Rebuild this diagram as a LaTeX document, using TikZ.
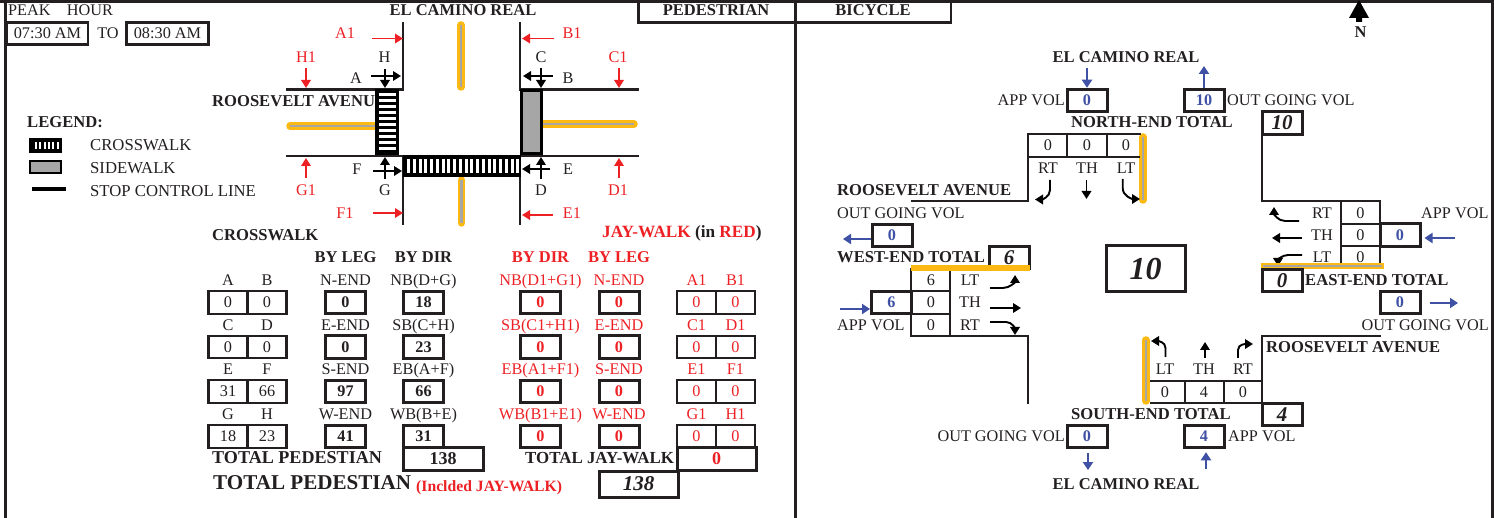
\documentclass[tikz,border=0pt]{standalone}
\usepackage{fontspec}
\setmainfont{Liberation Serif}
\usepackage{xcolor}
\usetikzlibrary{arrows.meta,positioning,calc}
\definecolor{inkdark}{HTML}{231F20}
\definecolor{jayred}{HTML}{ED2024}
\definecolor{volblue}{HTML}{3F51A5}
\definecolor{medgold}{HTML}{FDB913}
\definecolor{walkgray}{HTML}{A6A6A6}
\begin{document}
\begin{tikzpicture}[x=1pt,y=-1pt,
every node/.style={inner sep=0pt,text=inkdark,font=\fontsize{16.25}{18}\selectfont},
lab/.style={anchor=center,text height=10.7pt,text depth=0pt},
labl/.style={anchor=west,text height=10.7pt,text depth=0pt},
redlab/.style={anchor=center,text=jayred,text height=10.7pt,text depth=0pt},
head/.style={anchor=west,text height=10.7pt,text depth=0pt,font=\fontsize{16.6}{18}\selectfont\bfseries},
headc/.style={anchor=center,text height=10.7pt,text depth=0pt,font=\fontsize{16.5}{18}\selectfont\bfseries},
thinbox/.style={draw=inkdark,line width=2.1pt,minimum width=39pt,minimum height=22.5pt,anchor=center},
fatbox/.style={draw=inkdark,line width=3pt,fill=white,minimum width=40pt,minimum height=22.5pt,anchor=center,font=\fontsize{16.2}{18}\selectfont\bfseries},
volbox/.style={fatbox,text=volblue},
sumbox/.style={fatbox,font=\fontsize{21}{24}\selectfont\bfseries\itshape},
frameline/.style={draw=inkdark,line width=3pt},
road/.style={draw=inkdark,line width=2.6pt},
tabline/.style={draw=inkdark,line width=2.2pt},
median/.style={draw=medgold,line width=7.5pt},
medcore/.style={draw=walkgray,line width=2.4pt},
walkarrow/.style={-{Triangle[length=8pt,width=9.5pt]},line width=1.8pt,draw=black},
jayarrow/.style={-{Triangle[length=8pt,width=9.5pt]},line width=1.8pt,draw=jayred},
flowarrow/.style={-{Triangle[length=8pt,width=10pt]},line width=2pt,draw=volblue},
turnarrow/.style={-{Triangle[length=8pt,width=9.5pt]},line width=1.9pt,draw=black}
]
\useasboundingbox (0,0) rectangle (1494,518);
\draw[frameline] (0,1.2) -- (1494,1.2);
\draw[frameline] (5.5,0) -- (5.5,518);
\draw[frameline] (795,0) -- (795,518);
\draw[frameline] (1492,0) -- (1492,518);
\draw[frameline,line width=2.5pt] (638.5,0) |- (951,22.5) -- (951,0);

\node[labl] (peak) at (8,10) {PEAK\hspace{1em}HOUR};
\node[thinbox,line width=2.6pt,minimum width=81pt] (start) at (47.5,33.5) {07:30 AM};
\node[lab] (to) at (108,33) {TO};
\node[thinbox,line width=2.6pt,minimum width=82pt] (stop) at (167.5,33.5) {08:30 AM};
\node[headc] (pedhdr) at (716,10.5) {PEDESTRIAN};
\node[headc] (bikehdr) at (873,10.5) {BICYCLE};
\fill[black] (1359,0) -- (1369,18) -- (1362,18) -- (1362,22) -- (1356,22) -- (1356,18) -- (1349,18) -- cycle;
\node[headc] (north) at (1360.5,32.5) {N};

\node[headc] (camino) at (463,10.5) {EL CAMINO REAL};
\node[head] (roosevelt) at (212,101) {ROOSEVELT AVENUE};
\draw[road] (286,89.5) -- (403,89.5) -- (403,22);
\draw[road] (520,22) -- (520,89.5) -- (639,89.5);
\draw[road] (286,156) -- (403,156) -- (403,225);
\draw[road] (520,225) -- (520,156) -- (639,156);
\foreach \xa/\ya/\xb/\yb in {461/25/461/87,461.5/180/461.5/223,290/126/376/126,543/124/634/124}{
\draw[median,line cap=round] (\xa,\ya) -- (\xb,\yb);
\draw[medcore] (\xa,\ya) -- (\xb,\yb);
}
\draw[black,line width=3pt,fill=black] (376.5,90.5) rectangle (397.5,154);
\foreach \i in {0,...,9}{
\fill[white] (378.5,93+6*\i) rectangle (396,96.5+6*\i);
}
\draw[black,line width=3pt,fill=black] (404.5,157) rectangle (519,175.5);
\foreach \i in {0,...,19}{
\fill[white] (407+5.75*\i,159) rectangle (410+5.75*\i,173.5);
}
\draw[black,line width=3pt,fill=walkgray] (521.5,91) rectangle (541.5,154);

\foreach \name/\x/\y in {H/384.5/57,A/356/78,C/541/57,B/568/78,F/357/169,G/385/190,D/541/190,E/568/169}{
\node[lab] (pt\name) at (\x,\y) {\name};
}
\foreach \name/\x/\y in {A/345/33,B/572/33,H/306/57,C/618/57,G/306/190,D/618/190,F/345/213,E/572/213}{
\node[redlab] (jw\name) at (\x,\y) {\name1};
}
\foreach \xa/\ya/\xb/\yb in {385/69/385/88,371/76/401/76,541/68/541/88,553/76/523/76,385/179/385/157,373/171/402/171,541/179/541/157,550/169/522/169}{
\draw[walkarrow] (\xa,\ya) -- (\xb,\yb);
}
\foreach \xa/\ya/\xb/\yb in {372/38.5/403/38.5,554/38.5/522/38.5,306/68/306/88,619/68/619/88,306/178/306/158,619/178/619/158,373/213/403/213,553/215/522/215}{
\draw[jayarrow] (\xa,\ya) -- (\xb,\yb);
}

\node[head] (legend) at (27,122) {LEGEND:};
\draw[black,line width=2.5pt,fill=white] (30,139.5) rectangle (61,152);
\fill[black] (30,139.5) rectangle (61,152);
\foreach \i in {0,...,5}{
\fill[white] (35+4.3*\i,142) rectangle (37+4.3*\i,149.5);
}
\draw[black,line width=2.6pt,fill=walkgray] (30,161) rectangle (61,173);
\draw[black,line width=3.6pt] (32,189) -- (66,189);
\node[labl,font=\fontsize{16.7}{18}\selectfont] (lgcross) at (90,145) {CROSSWALK};
\node[labl,font=\fontsize{16.7}{18}\selectfont] (lgside) at (90,168) {SIDEWALK};
\node[labl,font=\fontsize{16.7}{18}\selectfont] (lgstop) at (90,191) {STOP CONTROL LINE};

\node[head] (crosshdr) at (212,235) {CROSSWALK};
\node[headc] (leghdr) at (345.5,257) {BY LEG};
\node[headc] (dirhdr) at (423.5,257) {BY DIR};
\node[head,text=jayred,font=\fontsize{17.2}{18}\selectfont\bfseries] (jayhdr) at (602,232) {JAY-WALK \textcolor{inkdark}{(in} RED\textcolor{inkdark}{)}};
\node[headc,text=jayred] (jdirhdr) at (540.5,257) {BY DIR};
\node[headc,text=jayred] (jleghdr) at (619,257) {BY LEG};

\foreach \row/\yl/\yb/\pa/\pb/\va/\vb/\leg/\legv/\dir/\dirv in {
1/280/302.5/A/B/0/0/N-END/0/NB(D+G)/18,
2/325/347/C/D/0/0/E-END/0/SB(C+H)/23,
3/369/391.5/E/F/31/66/S-END/97/EB(A+F)/66,
4/414/436.5/G/H/18/23/W-END/41/WB(B+E)/31}{
\node[lab] (lb\pa) at (228,\yl) {\pa};
\node[lab] (lb\pb) at (267,\yl) {\pb};
\node[thinbox] (val\pa) at (228,\yb) {\va};
\node[thinbox] (val\pb) at (267,\yb) {\vb};
\node[lab] (leg\row) at (345.5,\yl) {\leg};
\node[fatbox] (legval\row) at (345.5,\yb) {\legv};
\node[lab] (dir\row) at (423.5,\yl) {\dir};
\node[fatbox] (dirval\row) at (423.5,\yb) {\dirv};
}
\foreach \row/\yl/\yb/\pa/\pb/\leg/\dir in {
1/280/302.5/A/B/N-END/NB(D1+G1),
2/325/347/C/D/E-END/SB(C1+H1),
3/369/391.5/E/F/S-END/EB(A1+F1),
4/414/436.5/G/H/W-END/WB(B1+E1)}{
\node[redlab] (jlb\pa) at (696.5,\yl) {\pa1};
\node[redlab] (jlb\pb) at (735.5,\yl) {\pb1};
\node[thinbox,text=jayred] (jval\pa) at (696.5,\yb) {0};
\node[thinbox,text=jayred] (jval\pb) at (735.5,\yb) {0};
\node[redlab] (jleg\row) at (619,\yl) {\leg};
\node[fatbox,text=jayred] (jlegval\row) at (619,\yb) {0};
\node[redlab] (jdir\row) at (540.5,\yl) {\dir};
\node[fatbox,text=jayred] (jdirval\row) at (540.5,\yb) {0};
}
\node[head,font=\fontsize{18.1}{20}\selectfont\bfseries] (totped) at (212,458) {TOTAL PEDESTIAN};
\node[fatbox,minimum width=80pt,font=\fontsize{18}{20}\selectfont\bfseries] (totpedval) at (443,459) {138};
\node[head,font=\fontsize{16.9}{18}\selectfont\bfseries] (totjay) at (525,458) {TOTAL JAY-WALK};
\node[fatbox,minimum width=79pt,text=jayred,font=\fontsize{18}{20}\selectfont\bfseries] (totjayval) at (716.5,459) {0};
\node[head,font=\fontsize{21.1}{24}\selectfont\bfseries] (allped) at (213,484) {TOTAL PEDESTIAN};
\node[head,text=jayred,font=\fontsize{15.7}{17}\selectfont\bfseries] (inclnote) at (416,486.5) {(Inclded JAY-WALK)};
\node[sumbox,minimum width=79pt,minimum height=26pt] (allval) at (638.5,484) {138};

\draw[median,line cap=round] (1143,137) -- (1143,200);
\draw[medcore] (1143,137) -- (1143,200);
\draw[tabline,line width=2.8pt] (911,201) -- (1028,201) -- (1028,134) -- (1141,134);
\draw[tabline] (1028,157) -- (1140,157);
\draw[tabline] (1067,134) -- (1067,157);
\draw[tabline] (1107,134) -- (1107,157);
\foreach \name/\x/\col/\vv in {nr/1048/RT/0,nt/1087/TH/0,nl/1126/LT/0}{
\node[lab] (\name val) at (\x,145.5) {\vv};
\node[lab] (\name lab) at (\x,168) {\col};
}
\draw[turnarrow] (1050,180) -- (1050,190) to[out=270,in=0] (1035,199.5);
\draw[turnarrow] (1086.5,180) -- (1086.5,199);
\draw[turnarrow] (1122.7,179) -- (1122.7,188) to[out=270,in=180] (1140,199);
\node[headc] (ntop) at (1126,57) {EL CAMINO REAL};
\node[lab,anchor=east] (nappl) at (1065,100) {APP VOL};
\node[volbox] (napp) at (1087,100.5) {0};
\node[labl] (noutl) at (1227,100) {OUT GOING VOL};
\node[volbox] (nout) at (1204,100.5) {10};
\coordinate (ninc) at (1087,68);
\coordinate (noutc) at (1204,66);
\draw[flowarrow] (ninc) -- (napp);
\draw[flowarrow] (nout) -- (noutc);
\node[head] (ntotal) at (1071,122) {NORTH-END TOTAL};
\node[sumbox] (nsum) at (1282,123) {10};

\node[head] (wroad) at (837,190) {ROOSEVELT AVENUE};
\node[labl] (woutl) at (837,213) {OUT GOING VOL};
\node[volbox] (wout) at (892,235.5) {0};
\coordinate (woutc) at (843,239);
\draw[flowarrow] (wout.west |- woutc) -- (woutc);
\node[head] (wtotal) at (837,257) {WEST-END TOTAL};
\node[sumbox] (wsum) at (1009,257.5) {\raisebox{-3pt}{6}};
\draw[tabline,line width=2.8pt] (911,268) -- (911,336) -- (1028,336) -- (1028,404);
\draw[tabline] (950,268) -- (950,336);
\draw[tabline] (911,291) -- (950,291);
\draw[tabline] (911,314) -- (950,314);
\draw[draw=medgold,line width=5.5pt] (911,268) -- (1030,268);
\foreach \name/\y/\col/\vv in {wl/280/LT/6,wt/302/TH/0,wr/325/RT/0}{
\node[lab] (\name val) at (931,\y) {\vv};
\node[lab] (\name lab) at (970,\y) {\col};
}
\node[volbox] (wapp) at (891.5,302.5) {6};
\coordinate (wappc) at (840,309);
\draw[flowarrow] (wappc) -- (wapp.west |- wappc);
\node[labl] (wappl) at (837,325) {APP VOL};
\draw[turnarrow] (990,288) -- (1003,288) to[out=0,in=270] (1015,275);
\draw[turnarrow] (990,308) -- (1021,308);
\draw[turnarrow] (990,322) -- (1006,322) to[out=0,in=90] (1015,335);

\node[sumbox,minimum width=79pt,minimum height=46pt,font=\fontsize{32}{36}\selectfont\bfseries\itshape] (allsum) at (1145.5,269) {10};

\draw[tabline,line width=2.8pt] (1262,112) -- (1262,201) -- (1380,201) -- (1380,268);
\draw[tabline] (1341,201) -- (1341,268);
\draw[tabline] (1341,224) -- (1380,224);
\draw[tabline] (1341,246) -- (1380,246);
\foreach \name/\y/\col in {er/213/RT,et/235/TH,el/257/LT}{
\node[lab] (\name val) at (1360.5,\y) {0};
\node[lab] (\name lab) at (1322,\y) {\col};
}
\draw[turnarrow] (1299,221) -- (1285,221) to[out=180,in=270] (1274,207);
\draw[turnarrow] (1302,238) -- (1272,238);
\draw[turnarrow] (1302,255) -- (1288,255) to[out=180,in=90] (1278,266);
\draw[draw=medgold,line width=6pt] (1261,266) -- (1384,266);
\draw[medcore,line width=1.4pt] (1263,266) -- (1382,266);
\node[volbox] (eapp) at (1400,235) {0};
\node[labl] (eappl) at (1421,213) {APP VOL};
\coordinate (eappc) at (1455,238);
\draw[flowarrow] (eappc) -- ([xshift=3pt]eapp.east |- eappc);
\node[sumbox] (esum) at (1282,280.5) {0};
\node[head] (etotal) at (1305,280) {EAST-END TOTAL};
\node[volbox] (eout) at (1400,302.5) {0};
\coordinate (eoutc) at (1458,303);
\draw[flowarrow,shorten <=8pt] (eout.east |- eoutc) -- (eoutc);
\node[lab,anchor=east] (eoutl) at (1489,325) {OUT GOING VOL};

\draw[median,line cap=round] (1146,340) -- (1146,401);
\draw[medcore] (1146,340) -- (1146,401);
\draw[tabline,line width=2.8pt] (1381,336) -- (1262,336) -- (1262,403);
\draw[tabline] (1150,381) -- (1262,381);
\draw[tabline] (1150,403) -- (1262,403);
\draw[tabline] (1185,381) -- (1185,403);
\draw[tabline] (1224,381) -- (1224,403);
\foreach \name/\x/\col/\vv in {sl/1165/LT/0,st/1204/TH/4,sr/1243/RT/0}{
\node[lab] (\name val) at (\x,392) {\vv};
\node[lab] (\name lab) at (\x,369) {\col};
}
\draw[turnarrow] (1165.5,357) -- (1165.5,348) to[out=90,in=0] (1151,341);
\draw[turnarrow] (1205,358) -- (1205,342);
\draw[turnarrow] (1238,358) -- (1238,350) to[out=90,in=180] (1253,344);
\node[head] (sroad) at (1266,347) {ROOSEVELT AVENUE};
\node[head] (stotal) at (1071,414) {SOUTH-END TOTAL};
\node[sumbox] (ssum) at (1282,414.5) {4};
\node[lab,anchor=east] (soutl) at (1065,436) {OUT GOING VOL};
\node[volbox] (sout) at (1087,436.5) {0};
\node[volbox] (sapp) at (1204,436.5) {4};
\node[labl] (sappl) at (1228,436) {APP VOL};
\coordinate (soutc) at (1088,470);
\coordinate (sappc) at (1206,469);
\draw[flowarrow,shorten <=4pt] (sout.south -| soutc) -- (soutc);
\draw[flowarrow,shorten >=3pt] (sappc) -- (sapp.south -| sappc);
\node[headc] (sbot) at (1126,484) {EL CAMINO REAL};
\end{tikzpicture}
\end{document}
